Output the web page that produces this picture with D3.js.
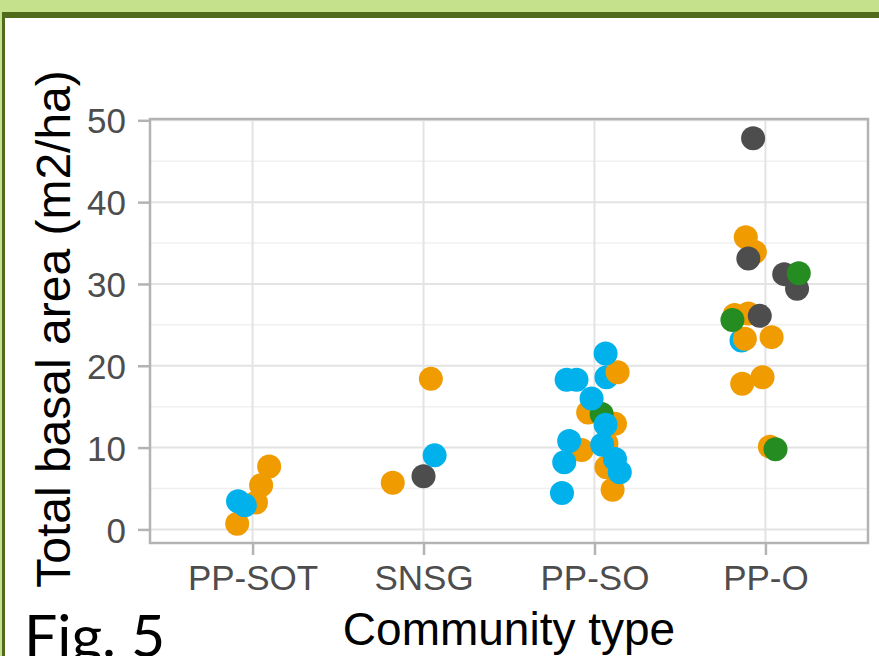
<!DOCTYPE html>
<html>
<head>
<meta charset="utf-8">
<script src="https://cdn.jsdelivr.net/npm/d3@7"></script>
<style>
  html, body { margin: 0; padding: 0; background: #ffffff; }
  svg { display: block; }
</style>
</head>
<body>
<svg id="chart" width="879" height="656"></svg>
<script>
// Community types along the x axis
const categories = ["PP-SOT", "SNSG", "PP-SO", "PP-O"];

// Point groups and their colours
const groups = ["Group 1", "Group 2", "Group 3", "Group 4"];
const groupColors = ["#f09b00", "#00b1ec", "#4d4d4d", "#258c22"];

// y axis tick values
const yTicks = [0, 10, 20, 30, 40, 50];

// One entry per plot, in drawing order
const pointCommunity = [
  "PP-SOT","PP-SOT","PP-SOT","PP-SOT","PP-SOT","PP-SOT",
  "SNSG","SNSG","SNSG","SNSG",
  "PP-SO","PP-SO","PP-SO","PP-SO","PP-SO","PP-SO","PP-SO","PP-SO",
  "PP-SO","PP-SO","PP-SO","PP-SO","PP-SO","PP-SO","PP-SO","PP-SO",
  "PP-SO","PP-SO","PP-SO","PP-SO",
  "PP-O","PP-O","PP-O","PP-O","PP-O","PP-O","PP-O","PP-O","PP-O",
  "PP-O","PP-O","PP-O","PP-O","PP-O","PP-O","PP-O","PP-O","PP-O"
];
const pointGroup = [
  "Group 1","Group 1","Group 1","Group 1","Group 2","Group 2",
  "Group 1","Group 1","Group 3","Group 2",
  "Group 1","Group 1","Group 1","Group 1","Group 1","Group 1","Group 2","Group 1",
  "Group 4","Group 2","Group 2","Group 2","Group 2","Group 2","Group 2","Group 2",
  "Group 2","Group 2","Group 2","Group 2",
  "Group 2","Group 1","Group 1","Group 1","Group 1","Group 1","Group 1","Group 1","Group 1",
  "Group 1","Group 3","Group 3","Group 3","Group 3","Group 3","Group 4","Group 4","Group 4"
];
const pointBasal = [
  7.7, 5.4, 3.3, 0.7, 3.45, 2.95,
  18.4, 5.7, 6.5, 9.05,
  14.3, 12.9, 9.7, 10.5, 7.6, 4.85, 18.6, 19.2,
  14.1, 21.5, 18.3, 18.3, 16.0, 12.8, 10.8, 10.35,
  8.2, 8.6, 7.0, 4.45,
  23.1, 35.7, 33.9, 26.4, 26.2, 23.3, 23.5, 17.8, 18.6,
  10.1, 47.8, 33.1, 31.2, 29.4, 26.1, 25.6, 31.3, 9.8
];
// Horizontal jitter, as a fraction of the category step
const pointJitter = [
  0.097, 0.05, 0.02, -0.09, -0.085, -0.045,
  0.043, -0.18, 0.0, 0.065,
  -0.037, 0.12, -0.075, 0.07, 0.07, 0.106, 0.07, 0.135,
  0.042, 0.065, -0.163, -0.105, -0.017, 0.065, -0.148, 0.045,
  -0.177, 0.12, 0.148, -0.19,
  -0.14, -0.115, -0.062, -0.1, -0.18, -0.12, 0.036, -0.136, -0.017,
  0.026, -0.072, -0.1, 0.11, 0.185, -0.033, -0.193, 0.195, 0.059
];

const points = pointBasal.map((v, i) => ({
  community: pointCommunity[i],
  group: pointGroup[i],
  basal: v,
  jitter: pointJitter[i]
}));

const svg = d3.select("#chart");
const W = 879, H = 656;

// Frame: light green band with a dark green rule
svg.append("rect").attr("x", 0).attr("y", 0).attr("width", W).attr("height", H).attr("fill", "#c5e18b");
svg.append("rect").attr("x", 2).attr("y", 12).attr("width", W - 2).attr("height", H - 12).attr("fill", "#4f6b1b");
svg.append("rect").attr("x", 5).attr("y", 18).attr("width", W - 5).attr("height", H - 18).attr("fill", "#ffffff");

const panel = { left: 150, right: 868, top: 119, bottom: 543 };

const x = d3.scalePoint()
  .domain(categories)
  .range([panel.left, panel.right])
  .padding(0.6);

const y = d3.scaleLinear()
  .domain([-1.66, 50.16])
  .range([panel.bottom, panel.top]);

const color = d3.scaleOrdinal().domain(groups).range(groupColors);

const g = svg.append("g");

// Minor grid
const minor = d3.range(5, 50, 10);
g.selectAll(".minor").data(minor).join("line")
  .attr("x1", panel.left).attr("x2", panel.right)
  .attr("y1", d => y(d)).attr("y2", d => y(d))
  .attr("stroke", "#f0f0f0").attr("stroke-width", 1.5);

// Major grid
g.selectAll(".majorY").data(yTicks).join("line")
  .attr("x1", panel.left).attr("x2", panel.right)
  .attr("y1", d => y(d)).attr("y2", d => y(d))
  .attr("stroke", "#e3e3e3").attr("stroke-width", 2);
g.selectAll(".majorX").data(categories).join("line")
  .attr("x1", d => x(d)).attr("x2", d => x(d))
  .attr("y1", panel.top).attr("y2", panel.bottom)
  .attr("stroke", "#e3e3e3").attr("stroke-width", 2);

// Points
g.selectAll("circle").data(points).join("circle")
  .attr("cx", d => x(d.community) + d.jitter * x.step())
  .attr("cy", d => y(d.basal))
  .attr("r", 12)
  .attr("fill", d => color(d.group));

// Panel border
g.append("rect")
  .attr("x", panel.left).attr("y", panel.top)
  .attr("width", panel.right - panel.left).attr("height", panel.bottom - panel.top)
  .attr("fill", "none").attr("stroke", "#b3b3b3").attr("stroke-width", 2.5);

// Axes
const font = "'Liberation Sans', Arial, sans-serif";
const yAxis = d3.axisLeft(y).tickValues(yTicks).tickSize(12).tickPadding(12);
const yg = svg.append("g").attr("transform", `translate(${panel.left},0)`).call(yAxis);
const xAxis = d3.axisBottom(x).tickSize(12).tickPadding(10);
const xg = svg.append("g").attr("transform", `translate(0,${panel.bottom})`).call(xAxis);

[yg, xg].forEach(a => {
  a.select(".domain").remove();
  a.selectAll(".tick line").attr("stroke", "#b3b3b3").attr("stroke-width", 2.5);
  a.selectAll(".tick text")
    .attr("fill", "#4d4d4d")
    .style("font-family", font)
    .style("font-size", "35px");
});
yg.selectAll(".tick text").attr("dy", "0.36em");
xg.selectAll(".tick text").attr("dy", "0.71em");

// Axis titles
svg.append("text")
  .attr("transform", `translate(70,${(panel.top + panel.bottom) / 2 - 2}) rotate(-90)`)
  .attr("text-anchor", "middle")
  .style("font-family", font)
  .style("font-size", "48px")
  .attr("fill", "#000")
  .text("Total basal area (m2/ha)");

svg.append("text")
  .attr("x", (panel.left + panel.right) / 2)
  .attr("y", 645)
  .attr("text-anchor", "middle")
  .style("font-family", font)
  .style("font-size", "46px")
  .attr("fill", "#000")
  .text("Community type");

// Figure label
svg.append("text")
  .attr("x", 24)
  .attr("y", 657)
  .style("font-family", "Lato, 'Open Sans', sans-serif")
  .style("font-size", "59px")
  .attr("fill", "#000")
  .text("Fig. 5");
</script>
</body>
</html>
